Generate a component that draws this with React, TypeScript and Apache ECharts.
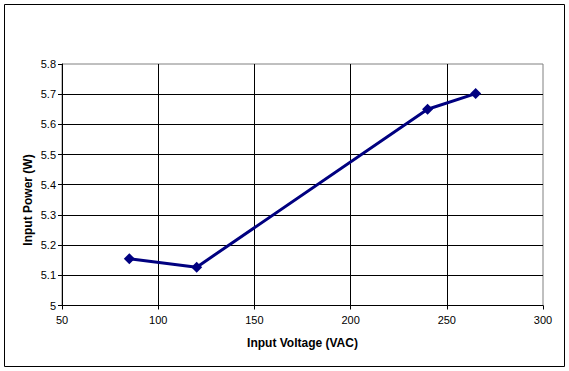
import React, { useEffect, useRef } from "react";
import * as echarts from "echarts";

const voltages = [85, 120, 240, 265];
const powers = [5.155, 5.127, 5.65, 5.702];
const xTitle = "Input Voltage (VAC)";
const yTitle = "Input Power (W)";

export default function App() {
  const ref = useRef<HTMLDivElement>(null);
  useEffect(() => {
    if (!ref.current) return;
    const chart = echarts.init(ref.current, null, { renderer: "svg" });
    const font = "'Liberation Sans', Arial, sans-serif";
    chart.setOption({
      animation: false,
      backgroundColor: "#ffffff",
      grid: {
        left: 62,
        top: 64,
        right: 26,
        bottom: 65.5,
        show: true,
        borderColor: "#808080",
        borderWidth: 1,
      },
      xAxis: {
        type: "value",
        min: 50,
        max: 300,
        interval: 50,
        axisLine: { show: true, onZero: false, lineStyle: { color: "#000", width: 1 } },
        axisTick: { show: true, length: 4, lineStyle: { color: "#000" } },
        axisLabel: { color: "#000", fontSize: 11, fontFamily: font, margin: 9 },
        splitLine: { show: true, showMinLine: false, showMaxLine: false, lineStyle: { color: "#000", width: 1 } },
      },
      yAxis: {
        type: "value",
        min: 5,
        max: 5.8,
        interval: 0.1,
        axisLine: { show: true, onZero: false, lineStyle: { color: "#000", width: 1 } },
        axisTick: { show: true, length: 4, lineStyle: { color: "#000" } },
        axisLabel: {
          color: "#000",
          fontSize: 11,
          fontFamily: font,
          margin: 6,
          formatter: (v: number) => String(parseFloat(v.toFixed(1))),
        },
        splitLine: { show: true, showMinLine: false, showMaxLine: false, lineStyle: { color: "#000", width: 1 } },
      },
      series: [
        {
          type: "line",
          data: voltages.map((v, i) => [v, powers[i]]),
          symbol: "diamond",
          symbolSize: 11,
          lineStyle: { color: "#000080", width: 3 },
          itemStyle: { color: "#000080" },
        },
      ],
      graphic: [
        {
          type: "rect",
          shape: { x: 4.5, y: 4.5, width: 560, height: 362 },
          style: { fill: "none", stroke: "#000", lineWidth: 1 },
          z: 100,
        },
        {
          type: "text",
          x: 302.5,
          y: 343,
          style: {
            text: xTitle,
            fontSize: 12,
            fontWeight: "bold",
            fontFamily: font,
            fill: "#000",
            align: "center",
            verticalAlign: "middle",
          },
        },
        {
          type: "text",
          x: 28,
          y: 200,
          rotation: Math.PI / 2,
          style: {
            text: yTitle,
            fontSize: 12,
            fontWeight: "bold",
            fontFamily: font,
            fill: "#000",
            align: "center",
            verticalAlign: "middle",
          },
        },
      ],
    });
    return () => chart.dispose();
  }, []);
  return (
    <div
      ref={ref}
      style={{ position: "absolute", left: 0, top: 0, width: 569, height: 371 }}
    />
  );
}
